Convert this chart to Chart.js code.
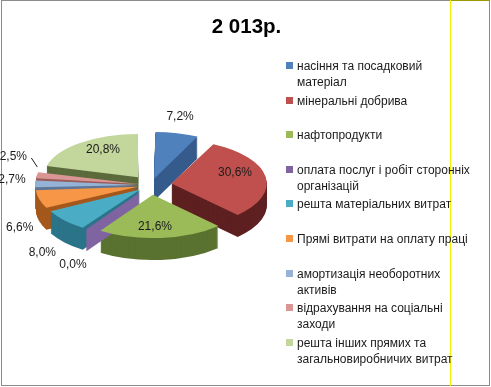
<!DOCTYPE html>
<html>
<head>
<meta charset="utf-8">
<script src="https://cdn.jsdelivr.net/npm/chart.js@4/dist/chart.umd.min.js"></script>
<style>
  html, body { margin: 0; padding: 0; background: #fff; }
  body { width: 491px; height: 387px; overflow: hidden; position: relative;
         font-family: "Liberation Sans", Arial, sans-serif; }
  #frame { position: absolute; left: 1px; top: 0; width: 487px; height: 384px;
           border: 1px solid #8c8c8c; }
  #olive { position: absolute; left: 450px; top: 0; width: 40px; height: 1px; background: #9b9b00; }
  #vline { position: absolute; left: 450px; top: 0; width: 1px; height: 386px; background: #f2f200; }
  #title { position: absolute; left: 1px; width: 491px; top: 14px; text-align: center;
           font-weight: bold; font-size: 20.5px; line-height: 24px; color: #000; }
  #legend { position: absolute; left: 286px; top: 0; }
  .item { position: absolute; left: 0; width: 200px; }
  .mk { position: absolute; left: 0; top: 4px; width: 7px; height: 7px; }
  .tx { position: absolute; left: 11px; top: 0; font-size: 12px; line-height: 16px;
        color: #1a1a1a; white-space: nowrap; }
  canvas { position: absolute; left: 0; top: 0; }
</style>
</head>
<body>
<div id="frame"></div>
<div id="olive"></div>
<canvas id="c" width="491" height="387"></canvas>
<div id="vline"></div>
<div id="title"></div>
<div id="legend"></div>
<script>
// ---- data ----
const chartTitle = '2 013р.';
const categories = [
  ['насіння та посадковий', 'матеріал'],
  ['мінеральні добрива'],
  ['нафтопродукти'],
  ['оплата послуг і робіт сторонніх', 'організацій'],
  ['решта матеріальних витрат'],
  ['Прямі витрати на оплату праці'],
  ['амортизація необоротних', 'активів'],
  ['відрахування на соціальні', 'заходи'],
  ['решта інших прямих та', 'загальновиробничих витрат']
];
const shares = [7.2, 30.6, 21.6, 0.0, 8.0, 6.6, 2.7, 2.5, 20.8];

// ---- style ----
const topColors  = ['#4F81BD', '#C0504D', '#9BBB59', '#8064A2', '#4BACC6', '#F79646', '#95B3D7', '#D99694', '#C3D69B'];
const sideColors = ['#345b8c', '#5e2020', '#5a7230', '#4f3a6b', '#2b7489', '#a5581c', '#5f7797', '#9a5b5a', '#5c6b3c'];
const sliceOffsets = [56, 83, 86, 88, 58, 55, 48, 48, 85];
const TILT = 0.458, DEPTH = 22, RADIUS = 94;
const labelFx = [1.38, 0.905, 0.48, 1.49, 1.55, 1.45, 1.48, 1.49, 0.84];
const labelFy = [1.62, 1.78, 0.98, 2.24, 2.37, 3.74, 5.3, 3.53, 1.02];

document.getElementById('title').textContent = chartTitle;

// HTML legend built from the arrays
const leg = document.getElementById('legend');
categories.forEach((lines, i) => {
  const it = document.createElement('div');
  it.className = 'item';
  it.style.top = (58 + i * 34.6) + 'px';
  const mk = document.createElement('span');
  mk.className = 'mk'; mk.style.background = topColors[i];
  const tx = document.createElement('span');
  tx.className = 'tx'; tx.innerHTML = lines.map(s => s.replace(/&/g,'&amp;').replace(/</g,'&lt;')).join('<br>');
  it.appendChild(mk); it.appendChild(tx); leg.appendChild(it);
});

function fmt(v) { return v.toFixed(1).replace('.', ',') + '%'; }

function applyTilt(ctx, cx, cy, dy) {
  ctx.translate(cx, cy + dy); ctx.scale(1, TILT); ctx.translate(-cx, -cy);
}

const pie3d = {
  id: 'pie3d',
  beforeDatasetsDraw(chart) {
    const ctx = chart.ctx;
    const arcs = chart.getDatasetMeta(0).data;
    const cx = arcs[0].x, cy = arcs[0].y;
    // extruded side layers
    for (let d = DEPTH; d >= 1; d--) {
      ctx.save();
      applyTilt(ctx, cx, cy, d);
      arcs.forEach((arc, i) => {
        const p = Object.create(arc);
        p.options = Object.assign({}, arc.options, { backgroundColor: sideColors[i], borderColor: sideColors[i], borderWidth: 0 });
        p.draw(ctx);
      });
      ctx.restore();
    }
    // wall of zero-size slices
    arcs.forEach((arc, i) => {
      if (arc.circumference !== 0) return;
      const a = arc.startAngle;
      const t = (arc.options.offset || 0) / 4;
      const x0 = cx + Math.cos(a) * t, y0 = cy + Math.sin(a) * t * TILT;
      const x1 = cx + Math.cos(a) * (t + arc.outerRadius), y1 = cy + Math.sin(a) * (t + arc.outerRadius) * TILT;
      ctx.save();
      ctx.fillStyle = topColors[i];
      ctx.beginPath();
      ctx.moveTo(x0, y0); ctx.lineTo(x1, y1); ctx.lineTo(x1, y1 + DEPTH); ctx.lineTo(x0, y0 + DEPTH);
      ctx.closePath(); ctx.fill();
      ctx.restore();
    });
    ctx.save();
    applyTilt(ctx, cx, cy, 0);
  },
  afterDatasetsDraw(chart) {
    const ctx = chart.ctx;
    ctx.restore();
    const arcs = chart.getDatasetMeta(0).data;
    const cx = arcs[0].x, cy = arcs[0].y;
    ctx.save();
    ctx.font = '12px "Liberation Sans", Arial, sans-serif';
    ctx.fillStyle = '#1a1a1a';
    ctx.textAlign = 'center';
    ctx.textBaseline = 'middle';
    arcs.forEach((arc, i) => {
      const a = (arc.startAngle + arc.endAngle) / 2;
      const x = cx + Math.cos(a) * arc.outerRadius * labelFx[i];
      const y = cy + Math.sin(a) * arc.outerRadius * TILT * labelFy[i];
      ctx.fillText(fmt(shares[i]), x, y);
      if (i === 7) { // leader line for small slice label
        ctx.strokeStyle = '#1a1a1a'; ctx.lineWidth = 1;
        ctx.beginPath();
        ctx.moveTo(x + 18, y + 1);
        ctx.lineTo(x + 24, y + 10);
        ctx.stroke();
      }
    });
    ctx.restore();
  }
};

new Chart(document.getElementById('c'), {
  type: 'pie',
  data: {
    labels: categories.map(l => l.join(' ')),
    datasets: [{
      data: shares,
      backgroundColor: topColors,
      borderWidth: 0,
      offset: sliceOffsets,
      radius: RADIUS,
      clip: false
    }]
  },
  options: {
    responsive: false,
    animation: false,
    events: [],
    layout: { padding: { left: 0, right: 189, top: 0, bottom: 17 } },
    plugins: { legend: { display: false }, tooltip: { enabled: false }, title: { display: false } }
  },
  plugins: [pie3d]
});
</script>
</body>
</html>
